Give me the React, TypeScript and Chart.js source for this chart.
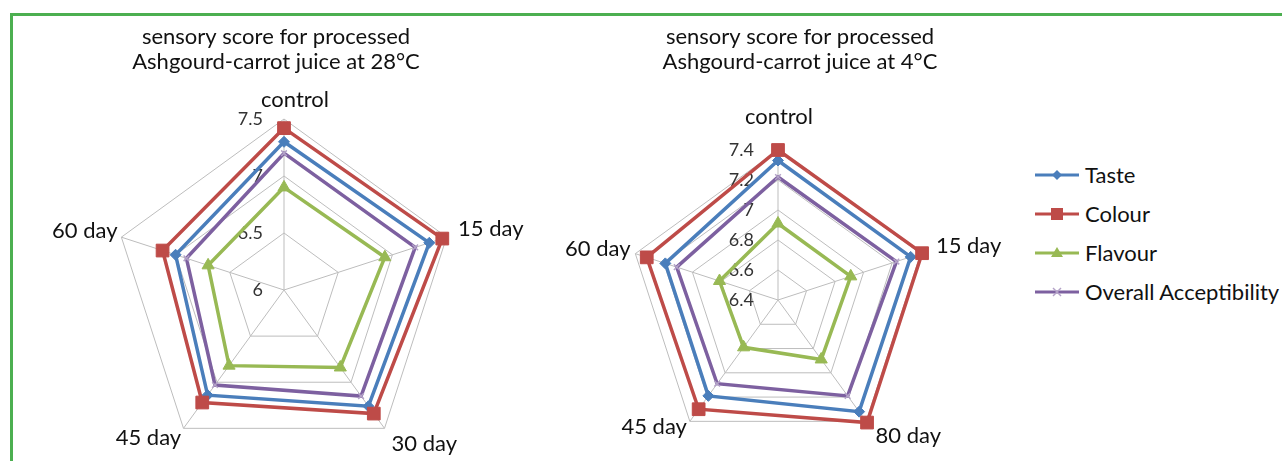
import React, { useEffect, useRef } from 'react';
import { Chart, registerables } from 'chart.js';

Chart.register(...registerables);

// ---------- data ----------
const SERIES_NAMES = ['Taste', 'Colour', 'Flavour', 'Overall Acceptibility'];

const LABELS_28 = ['control', '15 day', '30 day', '45 day', '60 day'];
const TASTE_28 = [7.3, 7.34, 7.26, 7.14, 7.0];
const COLOUR_28 = [7.42, 7.46, 7.34, 7.22, 7.12];
const FLAVOUR_28 = [6.9, 6.93, 6.84, 6.82, 6.7];
const OVERALL_28 = [7.2, 7.21, 7.15, 7.03, 6.9];
const TITLE_28 = ['sensory score for processed', 'Ashgourd-carrot juice at 28°C'];
const SCALE_28 = { min: 6, max: 7.5, step: 0.5 };

const LABELS_4 = ['control', '15 day', '80 day', '45 day', '60 day'];
const TASTE_4 = [7.33, 7.33, 7.32, 7.19, 7.19];
const COLOUR_4 = [7.4, 7.41, 7.41, 7.3, 7.32];
const FLAVOUR_4 = [6.91, 6.91, 6.89, 6.79, 6.81];
const OVERALL_4 = [7.22, 7.23, 7.19, 7.09, 7.11];
const TITLE_4 = ['sensory score for processed', 'Ashgourd-carrot juice at 4°C'];
const SCALE_4 = { min: 6.4, max: 7.4, step: 0.2 };

// ---------- styles ----------
const LINE_COLORS = ['#4a7ebb', '#be4b48', '#98b954', '#7d60a0'];
const MARKER_COLORS = ['#4a7ebb', '#be4b48', '#98b954', '#b3a2c7'];
const POINT_STYLES = ['rectRot', 'rect', 'triangle', 'crossRot'];
const POINT_RADII = [5.5, 9, 7, 4];
const FONT = 'Lato, "Open Sans", sans-serif';

const fmtTick = (v: number) => String(parseFloat(v.toFixed(2)));

const decorPlugin = {
  id: 'decor',
  beforeDatasetsDraw(chart: any, _args: any, opts: any) {
    const scale = chart.scales.r;
    const ctx = chart.ctx;
    ctx.save();
    ctx.font = `${opts.tickSize}px ${FONT}`;
    ctx.fillStyle = '#333333';
    ctx.textAlign = 'right';
    ctx.textBaseline = 'middle';
    scale.ticks.forEach((t: any) => {
      const d = scale.getDistanceFromCenterForValue(t.value);
      ctx.fillText(fmtTick(t.value), scale.xCenter - opts.tickDx, scale.yCenter - d);
    });
    ctx.restore();
  },
  afterDraw(chart: any, _args: any, opts: any) {
    const scale = chart.scales.r;
    const ctx = chart.ctx;
    ctx.save();
    ctx.fillStyle = '#111111';
    // title
    ctx.font = `${opts.titleSize}px ${FONT}`;
    ctx.textAlign = 'center';
    ctx.textBaseline = 'middle';
    (opts.title as string[]).forEach((line, i) => {
      ctx.fillText(line, scale.xCenter + opts.titleDx, opts.titleY[i]);
    });
    // point labels
    ctx.font = `${opts.labelSize}px ${FONT}`;
    const labels = chart.data.labels as string[];
    labels.forEach((lab, i) => {
      if (i === 0) {
        const p = scale.getPointPosition(0, scale.drawingArea + opts.topPad);
        ctx.textAlign = 'center';
        ctx.textBaseline = 'bottom';
        ctx.fillText(lab, p.x + opts.topDx, p.y);
        return;
      }
      const probe = scale.getPointPosition(i, scale.drawingArea);
      const right = probe.x - scale.xCenter > 0;
      const p = scale.getPointPosition(i, scale.drawingArea + (right ? opts.padRight : opts.padLeft));
      const dy = p.y - scale.yCenter;
      ctx.textAlign = right ? 'left' : 'right';
      ctx.textBaseline = 'middle';
      ctx.fillText(lab, p.x, p.y + (dy < 0 ? opts.upperDy : opts.lowerDy));
    });
    ctx.restore();
  },
};

type RadarProps = {
  labels: string[];
  series: number[][];
  scale: { min: number; max: number; step: number };
  left: number;
  width: number;
  height: number;
  padding: { left: number; right: number; top: number; bottom: number };
  decor: any;
};

function Radar(props: RadarProps) {
  const ref = useRef<HTMLCanvasElement | null>(null);
  useEffect(() => {
    if (!ref.current) return;
    const chart = new Chart(ref.current, {
      type: 'radar',
      data: {
        labels: props.labels,
        datasets: props.series.map((vals, i) => ({
          label: SERIES_NAMES[i],
          data: vals,
          borderColor: LINE_COLORS[i],
          backgroundColor: MARKER_COLORS[i],
          borderWidth: 3.5,
          fill: false,
          pointStyle: POINT_STYLES[i] as any,
          pointRadius: POINT_RADII[i],
          pointBackgroundColor: MARKER_COLORS[i],
          pointBorderColor: MARKER_COLORS[i],
          pointBorderWidth: i === 3 ? 1.5 : 1,
          tension: 0,
          clip: false as any,
          order: 3 - i,
        })),
      },
      options: {
        animation: false,
        responsive: false,
        devicePixelRatio: 1,
        layout: { padding: props.padding },
        scales: {
          r: {
            min: props.scale.min,
            max: props.scale.max,
            ticks: { display: false, stepSize: props.scale.step },
            pointLabels: { display: false },
            grid: { color: '#bdbdbd', lineWidth: 1 },
            angleLines: { color: '#bdbdbd', lineWidth: 1 },
          },
        },
        plugins: {
          legend: { display: false },
          title: { display: false },
          tooltip: { enabled: false },
          decor: props.decor,
        } as any,
      },
      plugins: [decorPlugin],
    });
    return () => chart.destroy();
  }, []);
  return (
    <canvas
      ref={ref}
      width={props.width}
      height={props.height}
      style={{ position: 'absolute', left: props.left, top: 0, width: props.width, height: props.height }}
    />
  );
}

function LegendIcon({ index }: { index: number }) {
  const c = LINE_COLORS[index];
  const m = MARKER_COLORS[index];
  let marker: React.ReactNode = null;
  if (index === 0) marker = <polygon points="22,3 27,8 22,13 17,8" fill={m} />;
  if (index === 1) marker = <rect x={16} y={2} width={12} height={12} fill={m} />;
  if (index === 2) marker = <polygon points="22,2 28,12 16,12" fill={m} />;
  if (index === 3)
    marker = (
      <g stroke={m} strokeWidth={1.5}>
        <line x1={18} y1={4} x2={26} y2={12} />
        <line x1={26} y1={4} x2={18} y2={12} />
      </g>
    );
  return (
    <svg width={44} height={16} style={{ display: 'block' }}>
      <line x1={0} y1={8} x2={44} y2={8} stroke={c} strokeWidth={3} />
      {marker}
    </svg>
  );
}

export default function App() {
  return (
    <div style={{ position: 'absolute', left: 0, top: 0, width: 1282, height: 461, overflow: 'hidden', background: '#fff' }}>
      <div
        style={{
          position: 'absolute',
          left: 10,
          top: 13,
          width: 1400,
          height: 600,
          border: '3px solid #4caf50',
          boxSizing: 'border-box',
        }}
      />
      <Radar
        labels={LABELS_28}
        series={[TASTE_28, COLOUR_28, FLAVOUR_28, OVERALL_28]}
        scale={SCALE_28}
        left={0}
        width={540}
        height={461}
        padding={{ left: 113, right: 85, top: 119, bottom: 0 }}
        decor={{
          title: TITLE_28,
          titleDx: -8,
          titleY: [37, 62],
          titleSize: 22,
          labelSize: 22,
          tickSize: 18,
          tickDx: 21,
          padRight: 12,
          padLeft: 4,
          topPad: 8,
          topDx: 11,
          upperDy: -5,
          lowerDy: 6,
        }}
      />
      <Radar
        labels={LABELS_4}
        series={[TASTE_4, COLOUR_4, FLAVOUR_4, OVERALL_4]}
        scale={SCALE_4}
        left={540}
        width={480}
        height={461}
        padding={{ left: 88, right: 92, top: 150, bottom: 11 }}
        decor={{
          title: TITLE_4,
          titleDx: 22,
          titleY: [37, 62],
          titleSize: 22,
          labelSize: 22,
          tickSize: 18,
          tickDx: 24,
          padRight: 16,
          padLeft: 5,
          topPad: 22,
          topDx: 1,
          upperDy: -3,
          lowerDy: 2,
        }}
      />
      <div style={{ position: 'absolute', left: 1035, top: 155, fontFamily: FONT, fontSize: 22, color: '#111' }}>
        {SERIES_NAMES.map((name, i) => (
          <div key={name} style={{ display: 'flex', alignItems: 'center', height: 39, whiteSpace: 'nowrap' }}>
            <LegendIcon index={i} />
            <span style={{ marginLeft: 6 }}>{name}</span>
          </div>
        ))}
      </div>
    </div>
  );
}
